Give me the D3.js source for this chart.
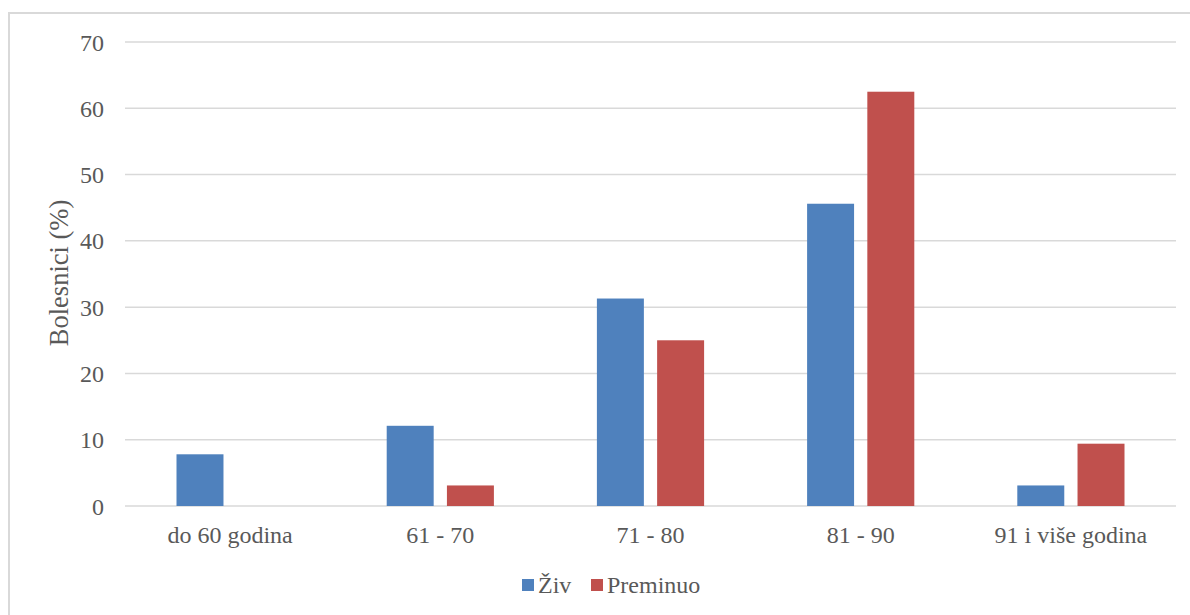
<!DOCTYPE html>
<html>
<head>
<meta charset="utf-8">
<script src="https://cdn.jsdelivr.net/npm/d3@7"></script>
<style>
  body { margin: 0; background: #fff; }
</style>
</head>
<body>
<div id="chart"></div>
<script>
const width = 1190;
const height = 615;

// data
const categories = ["do 60 godina", "61 - 70", "71 - 80", "81 - 90", "91 i više godina"];
const seriesNames = ["Živ", "Preminuo"];
const zivValues = [7.8, 12.1, 31.3, 45.6, 3.1];
const preminuoValues = [0, 3.1, 25, 62.5, 9.4];
const yTicks = [0, 10, 20, 30, 40, 50, 60, 70];
const colors = ["#4f81bd", "#c0504d"];

const margin = {top: 42, right: 14, bottom: 109, left: 125};
const fontFam = "'Liberation Serif', 'Times New Roman', serif";
const textColor = "#595959";

const svg = d3.select("#chart").append("svg")
    .attr("width", width)
    .attr("height", height);

// chart border (only left + top visible in the picture)
svg.append("rect")
    .attr("x", 9).attr("y", 13)
    .attr("width", width + 20).attr("height", height + 20)
    .attr("fill", "none")
    .attr("stroke", "#d9d9d9")
    .attr("stroke-width", 2);

const x0 = d3.scaleBand()
    .domain(categories)
    .range([margin.left, width - margin.right])
    .paddingInner(0)
    .paddingOuter(0);

const x1 = d3.scaleBand()
    .domain(seriesNames)
    .range([51.5, x0.bandwidth() - 51.5])
    .paddingInner(0.22);

const y = d3.scaleLinear()
    .domain([0, 70])
    .range([height - margin.bottom, margin.top]);

// grid lines
svg.append("g")
    .selectAll("line")
    .data(yTicks)
    .join("line")
    .attr("x1", margin.left)
    .attr("x2", width - margin.right)
    .attr("y1", d => y(d))
    .attr("y2", d => y(d))
    .attr("stroke", "#d9d9d9")
    .attr("stroke-width", 1.5);

// y tick labels
svg.append("g")
    .selectAll("text")
    .data(yTicks)
    .join("text")
    .attr("x", 104)
    .attr("y", d => y(d))
    .attr("dy", "0.36em")
    .attr("text-anchor", "end")
    .style("font-family", fontFam)
    .style("font-size", "24px")
    .style("fill", textColor)
    .text(d => d);

// y title
svg.append("text")
    .attr("transform", "translate(68,273) rotate(-90)")
    .attr("text-anchor", "middle")
    .style("font-family", fontFam)
    .style("font-size", "26.5px")
    .style("fill", textColor)
    .text("Bolesnici (%)");

// bars
const rows = categories.map((c, i) => ({cat: c, vals: [zivValues[i], preminuoValues[i]]}));

const groups = svg.append("g")
    .selectAll("g")
    .data(rows)
    .join("g")
    .attr("transform", d => `translate(${x0(d.cat)},0)`);

groups.selectAll("rect")
    .data(d => d.vals.map((v, j) => ({name: seriesNames[j], value: v, color: colors[j]})))
    .join("rect")
    .attr("x", d => x1(d.name))
    .attr("width", x1.bandwidth())
    .attr("y", d => y(d.value))
    .attr("height", d => y(0) - y(d.value))
    .attr("fill", d => d.color);

// x category labels
svg.append("g")
    .selectAll("text")
    .data(categories)
    .join("text")
    .attr("x", d => x0(d) + x0.bandwidth() / 2)
    .attr("y", 543)
    .attr("text-anchor", "middle")
    .style("font-family", fontFam)
    .style("font-size", "24px")
    .style("fill", textColor)
    .text(d => d);

// legend
const legendX = [522, 591];
const legend = svg.append("g")
    .selectAll("g")
    .data(seriesNames)
    .join("g")
    .attr("transform", (d, i) => `translate(${legendX[i]},579)`);

legend.append("rect")
    .attr("width", 12)
    .attr("height", 12)
    .attr("fill", (d, i) => colors[i]);

legend.append("text")
    .attr("x", 16)
    .attr("y", 13.5)
    .style("font-family", fontFam)
    .style("font-size", "24px")
    .style("fill", textColor)
    .text(d => d);
</script>
</body>
</html>
